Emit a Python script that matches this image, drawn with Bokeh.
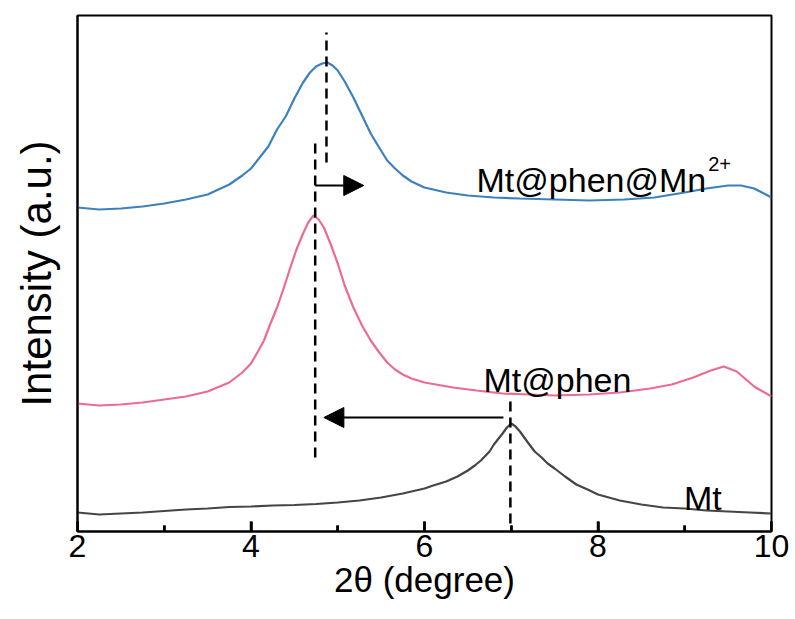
from bokeh.plotting import figure
from bokeh.models import Range1d, FixedTicker, Arrow, NormalHead, Label
from bokeh.embed import file_html
from bokeh.resources import INLINE

# ---- data (2theta in degree, intensity in a.u., curves offset) ----
mt_x = [2.0, 2.25, 2.5, 2.75, 3.0, 3.25, 3.5, 3.75, 4.0, 4.25, 4.5, 4.75, 5.0, 5.25, 5.5,
        5.75, 6.0, 6.1, 6.25, 6.38, 6.5, 6.58, 6.65, 6.75, 6.8, 6.9, 6.95, 7.0, 7.05, 7.1,
        7.15, 7.2, 7.27, 7.35, 7.42, 7.5, 7.62, 7.75, 7.88, 8.0, 8.25,
        8.5, 8.75, 9.0, 9.25, 9.5, 9.75, 10.0]
mt_y = [19, 17, 18, 19, 20.5, 22, 23, 24.5, 25, 26, 26.5, 27.5, 29, 31, 34,
        38, 43, 46, 50, 55, 61, 66, 71, 80, 87, 98, 104, 108, 105, 100,
        94, 88, 80, 74, 68, 63, 55, 47, 42, 37, 31,
        27, 24, 23, 21, 20, 19, 18]

phen_x = [2.0, 2.25, 2.5, 2.75, 3.0, 3.25, 3.5, 3.75, 3.9, 4.0, 4.08, 4.15, 4.22, 4.3, 4.38,
          4.45, 4.52, 4.6, 4.66, 4.72, 4.78, 4.84, 4.92, 5.0, 5.08, 5.18, 5.28, 5.38, 5.47,
          5.57, 5.66, 5.75, 5.85, 6.0, 6.33, 6.6, 6.9, 7.2, 7.5, 7.9, 8.25, 8.6, 8.85,
          9.1, 9.3, 9.45, 9.6, 9.8, 10.0]
phen_y = [128, 126, 127, 129, 132, 135, 140, 149, 159, 168, 180, 191, 207, 224, 244,
          263, 281, 298, 309, 316, 312, 304, 287, 268, 246, 224, 206, 191, 180,
          169, 162, 157, 153, 149, 144, 141, 138, 137, 136, 137, 139, 143, 147,
          154, 161, 165, 160, 145, 135]

mn_x = [2.0, 2.25, 2.5, 2.75, 3.0, 3.25, 3.5, 3.6, 3.75, 3.9, 4.0, 4.1, 4.2, 4.3, 4.4,
        4.5, 4.6, 4.68, 4.75, 4.82, 4.88, 4.94, 5.0, 5.08, 5.18, 5.28, 5.38, 5.47, 5.57,
        5.66, 5.75, 5.85, 6.0, 6.25, 6.5, 6.8, 7.1, 7.5, 7.9, 8.3, 8.65, 9.0, 9.25,
        9.5, 9.65, 9.8, 10.0]
mn_y = [324, 322, 323, 325, 328, 332, 337, 341, 347, 356, 363, 374, 385, 402, 415,
        433, 449, 459, 465, 468, 469, 466, 461, 450, 434, 416, 398, 385, 371,
        363, 356, 350, 344, 339, 336, 334, 333, 332, 331, 332, 334, 339, 343,
        346, 346, 343, 334]

# peak positions (degree) and the extent of the dashed marker lines
peak_x = [4.87, 4.74, 6.99]
peak_y0 = [369, 74, 8]
peak_y1 = [499, 391, 136]

x_ticks = [2, 4, 6, 8, 10]
x_minor = [3, 5, 7, 9]

FONT = "Liberation Sans"

p = figure(width=795, height=619, output_backend="svg", toolbar_location=None,
           x_range=Range1d(2, 10), y_range=Range1d(0, 516),
           min_border_left=77, min_border_right=24, min_border_top=15, min_border_bottom=88)
p.background_fill_color = "white"
p.border_fill_color = "white"
p.grid.visible = False
p.outline_line_color = "black"
p.outline_line_width = 2

# x axis
xa = p.xaxis[0]
xa.ticker = FixedTicker(ticks=x_ticks, minor_ticks=x_minor)
xa.major_tick_in = 10
xa.major_tick_out = 0
xa.minor_tick_in = 6
xa.minor_tick_out = 0
xa.major_tick_line_width = 2.5
xa.minor_tick_line_width = 2.5
xa.major_tick_line_color = "black"
xa.minor_tick_line_color = "black"
xa.axis_line_width = 2
xa.axis_line_color = "black"
xa.major_label_text_font = FONT
xa.major_label_text_font_size = "32px"
xa.major_label_text_color = "black"
xa.major_label_standoff = 3
xa.axis_label = "2θ (degree)"
xa.axis_label_text_font = FONT
xa.axis_label_text_font_style = "normal"
xa.axis_label_text_font_size = "35px"
xa.axis_label_text_color = "black"
xa.axis_label_standoff = 0

# inward tick marks drawn in the frame (from the tick lists)
p.segment(x0=x_ticks, y0=[0] * len(x_ticks), x1=x_ticks, y1=[10] * len(x_ticks),
          line_color="black", line_width=2.5)
p.segment(x0=x_minor, y0=[0] * len(x_minor), x1=x_minor, y1=[6] * len(x_minor),
          line_color="black", line_width=2.5)

# y axis (label only)
ya = p.yaxis[0]
ya.ticker = FixedTicker(ticks=[])
ya.major_label_text_font_size = "0px"
ya.major_tick_line_color = None
ya.minor_tick_line_color = None
ya.axis_line_width = 2
ya.axis_line_color = "black"
ya.axis_label = "Intensity (a.u.)"
ya.axis_label_text_font = FONT
ya.axis_label_text_font_style = "normal"
ya.axis_label_text_font_size = "42px"
ya.axis_label_text_color = "black"
ya.axis_label_standoff = 18

# curves
p.line(mt_x, mt_y, line_color="#454545", line_width=2.2)
p.line(phen_x, phen_y, line_color="#ee6b90", line_width=2.2)
p.line(mn_x, mn_y, line_color="#3d80bd", line_width=2.2)

# dashed peak markers
p.segment(x0=peak_x, y0=peak_y0, x1=peak_x, y1=peak_y1,
          line_color="black", line_width=2.5, line_dash="10 6")

# shift arrows
p.add_layout(Arrow(end=NormalHead(size=20, fill_color="black", line_color="black"),
                   x_start=peak_x[1], y_start=346, x_end=5.30, y_end=346,
                   line_color="black", line_width=2))
p.add_layout(Arrow(end=NormalHead(size=20, fill_color="black", line_color="black"),
                   x_start=6.91, y_start=114, x_end=4.84, y_end=114,
                   line_color="black", line_width=2))

# labels
def lab(x, y, t, size):
    p.add_layout(Label(x=x, y=y, text=t, text_font=FONT, text_font_size=size,
                       text_color="black", text_baseline="alphabetic", text_align="left"))

lab(6.60, 352, "Mt@phen@Mn", "34px")
lab(9.27, 368, "2+", "20px")
lab(6.68, 152, "Mt@phen", "34px")
lab(8.99, 34, "Mt", "34px")

open("out.html", "w").write(file_html(p, INLINE))
